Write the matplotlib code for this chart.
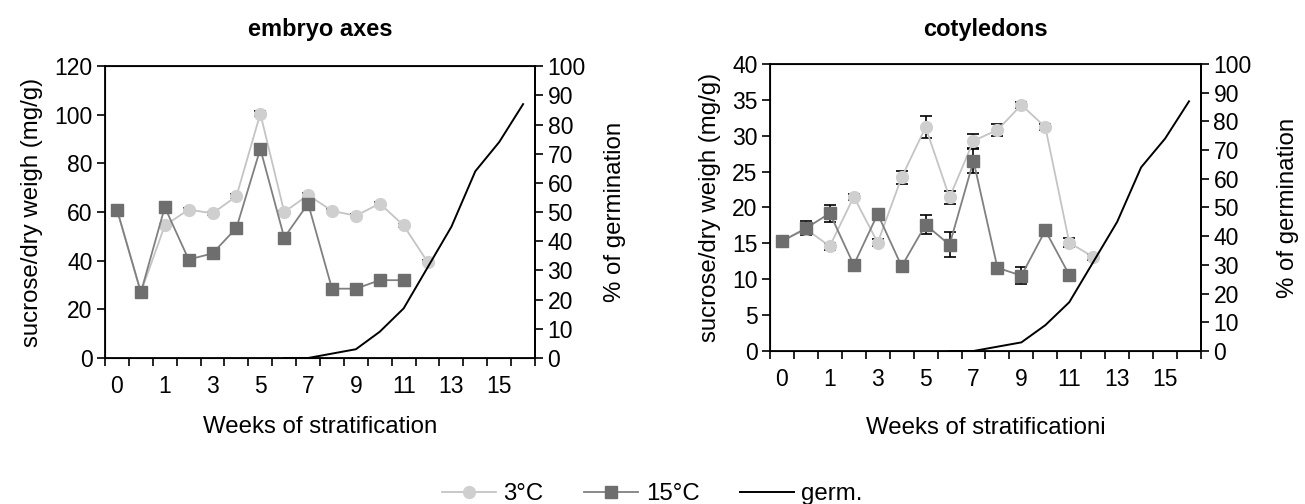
import numpy as np
import matplotlib
matplotlib.use('Agg')
import matplotlib.pyplot as plt
from matplotlib.lines import Line2D

font = {'family': 'Liberation Sans', 'size': 16.5}
matplotlib.rc('font', **font)

# categories on the x axis (Excel category axis, every other label shown)
weeks = ['0', '0.5', '1', '2', '3', '4', '5', '6', '7', '8', '9', '10',
         '11', '12', '13', '14', '15', '16']

# embryo axes, sucrose (mg/g)
emb_3c = [61, 27, 54.5, 61, 59.5, 66.5, 100.5, 60, 67, 60.5, 58.5, 63.5, 54.5, 39.5]
emb_3c_err = [0.6, 0.6, 0.6, 0.6, 0.6, 0.8, 1.0, 0.6, 0.8, 0.6, 0.6, 0.6, 0.6, 0.6]
emb_15c = [61, 27, 62, 40.5, 43, 53.5, 86, 49.5, 63.5, 28.5, 28.5, 32, 32]
emb_15c_err = [0.6, 0.6, 0.8, 0.6, 0.6, 0.8, 1.0, 0.6, 0.8, 0.6, 0.6, 0.6, 0.6]

# cotyledons, sucrose (mg/g)
cot_3c = [15.3, 17.0, 14.6, 21.5, 15.1, 24.2, 31.2, 21.4, 29.3, 30.8, 34.3, 31.2, 15.1, 13.1]
cot_3c_err = [0.2, 0.3, 0.5, 0.4, 0.5, 0.9, 1.5, 0.9, 1.0, 0.9, 0.4, 0.4, 0.6, 0.4]
cot_15c = [15.3, 17.1, 19.2, 12.0, 19.1, 11.8, 17.6, 14.8, 26.5, 11.6, 10.5, 16.8, 10.6]
cot_15c_err = [0.2, 1.0, 1.2, 0.5, 0.4, 0.4, 1.3, 1.75, 1.7, 0.3, 1.2, 0.4, 0.4]

# germination (%)
germ = [np.nan] * 7 + [0, 0, 1.5, 3, 9, 17, 31, 45, 64, 74, 87]

c3 = '#cfcfcf'
c3_line = '#c4c4c4'
c15 = '#6e6e6e'
c15_line = '#808080'


def panel(rect, title, xlabel, s3, e3, s15, e15, ymax, ystep,
          tpad, xpad, ypad2):
    ax = fig.add_axes(rect)
    x3 = np.arange(len(s3)) + 0.5
    x15 = np.arange(len(s15)) + 0.5
    ax.errorbar(x3, s3, yerr=e3, ls='none', color='black', elinewidth=1.2,
                capsize=4.5, capthick=1.2, zorder=2)
    ax.errorbar(x15, s15, yerr=e15, ls='none', color='black', elinewidth=1.2,
                capsize=4.5, capthick=1.2, zorder=2)
    ax.plot(x3, s3, color=c3_line, lw=1.3, marker='o', markersize=8.5,
            markerfacecolor=c3, markeredgecolor=c3, zorder=3)
    ax.plot(x15, s15, color=c15_line, lw=1.3, marker='s', markersize=8.5,
            markerfacecolor=c15, markeredgecolor=c15, zorder=4)
    ax.set_xlim(0, len(weeks))
    ax.set_ylim(0, ymax)
    ax.set_yticks(np.arange(0, ymax + 0.1, ystep))
    ax.set_xticks(np.arange(0, len(weeks) + 1))
    ax.set_xticklabels([])
    ax.set_xticks(np.arange(0, len(weeks), 2) + 0.5, minor=True)
    ax.set_xticklabels(weeks[::2], minor=True)
    ax.tick_params(axis='x', which='minor', length=0, pad=12)
    ax.tick_params(axis='both', which='major', direction='out', length=6,
                   width=1.2, pad=3)
    for sp in ax.spines.values():
        sp.set_linewidth(1.3)
    ax.set_ylabel('sucrose/dry weigh (mg/g)', fontsize=17.3, labelpad=8)
    ax.set_xlabel(xlabel, fontsize=17.3, labelpad=xpad)
    ax.set_title(title, fontsize=17, fontweight='bold', pad=tpad)

    ax2 = ax.twinx()
    ax2.plot(np.arange(len(germ)) + 0.5, germ, color='black', lw=1.4, zorder=5)
    ax2.set_ylim(0, 100)
    ax2.set_yticks(np.arange(0, 101, 10))
    ax2.tick_params(axis='y', direction='out', length=6, width=1.2, pad=3)
    ax2.spines['right'].set_linewidth(1.3)
    ax2.set_ylabel('% of germination', fontsize=17.3, labelpad=ypad2)
    return ax


fig = plt.figure(figsize=(13.05, 5.04), dpi=100)

panel([0.0805, 0.2897, 0.3295, 0.579], 'embryo axes', 'Weeks of stratification',
      emb_3c, emb_3c_err, emb_15c, emb_15c_err, 120, 20, 22, 13, 13)
panel([0.590, 0.3036, 0.3303, 0.5694], 'cotyledons', 'Weeks of stratificationi',
      cot_3c, cot_3c_err, cot_15c, cot_15c_err, 40, 5, 20.5, 19, 18)

handles = [
    Line2D([], [], color=c3_line, lw=1.3, marker='o', markersize=8.5,
           markerfacecolor=c3, markeredgecolor=c3),
    Line2D([], [], color=c15_line, lw=1.3, marker='s', markersize=8.5,
           markerfacecolor=c15, markeredgecolor=c15),
    Line2D([], [], color='black', lw=1.4),
]
fig.legend(handles, ['3°C', '15°C', 'germ.'], loc='center', ncol=3,
           bbox_to_anchor=(0.5, 0.02), frameon=False, fontsize=17.3,
           handlelength=2.25, columnspacing=1.7, handletextpad=0.3)

plt.savefig('out.png', dpi=100)
